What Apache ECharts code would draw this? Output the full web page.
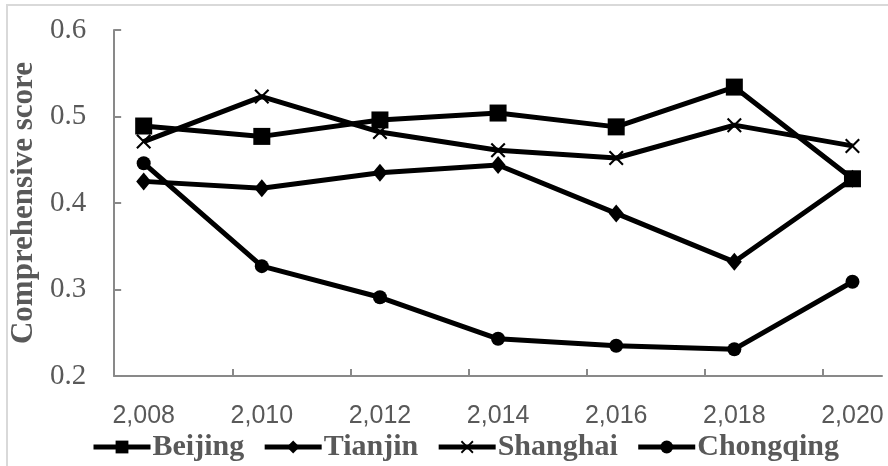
<!DOCTYPE html>
<html>
<head>
<meta charset="utf-8">
<script src="https://cdn.jsdelivr.net/npm/echarts@6/dist/echarts.min.js"></script>
<style>
  html, body { margin: 0; padding: 0; background: #ffffff; }
  #chart { width: 888px; height: 466px; }
</style>
</head>
<body>
<div id="chart"></div>
<script>
// x positions of the points as read on the axis (points sit half a year right of each tick)
const xValues = [2008.5, 2010.5, 2012.5, 2014.5, 2016.5, 2018.5, 2020.5];
const tickValues = [2008, 2010, 2012, 2014, 2016, 2018, 2020];
const tickLabels = ["2,008", "2,010", "2,012", "2,014", "2,016", "2,018", "2,020"];

const beijing = [0.489, 0.477, 0.496, 0.504, 0.488, 0.534, 0.428];
const tianjin = [0.425, 0.417, 0.435, 0.444, 0.388, 0.332, 0.428];
const shanghai = [0.471, 0.523, 0.482, 0.461, 0.452, 0.490, 0.466];
const chongqing = [0.446, 0.327, 0.291, 0.243, 0.235, 0.231, 0.309];

const crossPath =
  "path://M0,1L1,0L5,4L9,0L10,1L6,5L10,9L9,10L5,6L1,10L0,9L4,5Z";

function pairs(arr) {
  return arr.map((v, i) => [xValues[i], v]);
}

function makeSeries(name, data, symbol, size) {
  return {
    name: name,
    type: "line",
    data: pairs(data),
    symbol: symbol,
    symbolSize: size,
    showAllSymbol: true,
    lineStyle: { color: "#000000", width: 5 },
    itemStyle: { color: "#000000", borderWidth: 0 },
    emphasis: { disabled: true },
    animation: false,
  };
}

const chart = echarts.init(document.getElementById("chart"));

const option = {
  backgroundColor: "#ffffff",
  animation: false,
  graphic: [
    {
      type: "rect",
      shape: { x: 7, y: 5, width: 900, height: 500 },
      style: { fill: "none", stroke: "#d9d9d9", lineWidth: 2 },
      silent: true,
    },
  ],
  grid: { left: 108, right: 6, top: 30, bottom: 90 },
  legend: {
    left: 86,
    top: 427,
    itemWidth: 57,
    itemHeight: 16,
    itemGap: 18,
    lineStyle: { width: 5, color: "#000000" },
    textStyle: {
      fontFamily: "Liberation Serif",
      fontWeight: "bold",
      fontSize: 30,
      color: "#595959",
      padding: [0, 0, 0, -3],
    },
    data: ["Beijing", "Tianjin", "Shanghai", "Chongqing"],
  },
  xAxis: {
    type: "value",
    min: 2008,
    max: 2021,
    interval: 2,
    axisLine: { show: true, lineStyle: { color: "#898989", width: 2 } },
    axisTick: {
      show: true,
      inside: true,
      length: 7,
      customValues: tickValues,
      lineStyle: { color: "#898989", width: 2 },
    },
    axisLabel: {
      customValues: xValues,
      margin: 28,
      fontFamily: "Liberation Sans",
      fontSize: 25,
      color: "#595959",
      formatter: (v) => tickLabels[xValues.indexOf(v)],
    },
    splitLine: { show: false },
  },
  yAxis: {
    type: "value",
    min: 0.2,
    max: 0.6,
    interval: 0.1,
    name: "Comprehensive score",
    nameLocation: "middle",
    nameGap: 62,
    nameTextStyle: {
      fontFamily: "Liberation Serif",
      fontWeight: "bold",
      fontSize: 31,
      color: "#595959",
    },
    axisLine: { show: true, lineStyle: { color: "#898989", width: 2 } },
    axisTick: {
      show: true,
      inside: true,
      length: 7,
      lineStyle: { color: "#898989", width: 2 },
    },
    axisLabel: {
      margin: 28,
      fontFamily: "Liberation Serif",
      fontSize: 29,
      color: "#595959",
      formatter: (v) => v.toFixed(1),
    },
    splitLine: { show: false },
  },
  series: [
    makeSeries("Beijing", beijing, "rect", 17),
    makeSeries("Tianjin", tianjin, "diamond", [15, 18]),
    makeSeries("Shanghai", shanghai, crossPath, 15),
    makeSeries("Chongqing", chongqing, "circle", 14),
  ],
};

chart.setOption(option);
</script>
</body>
</html>
